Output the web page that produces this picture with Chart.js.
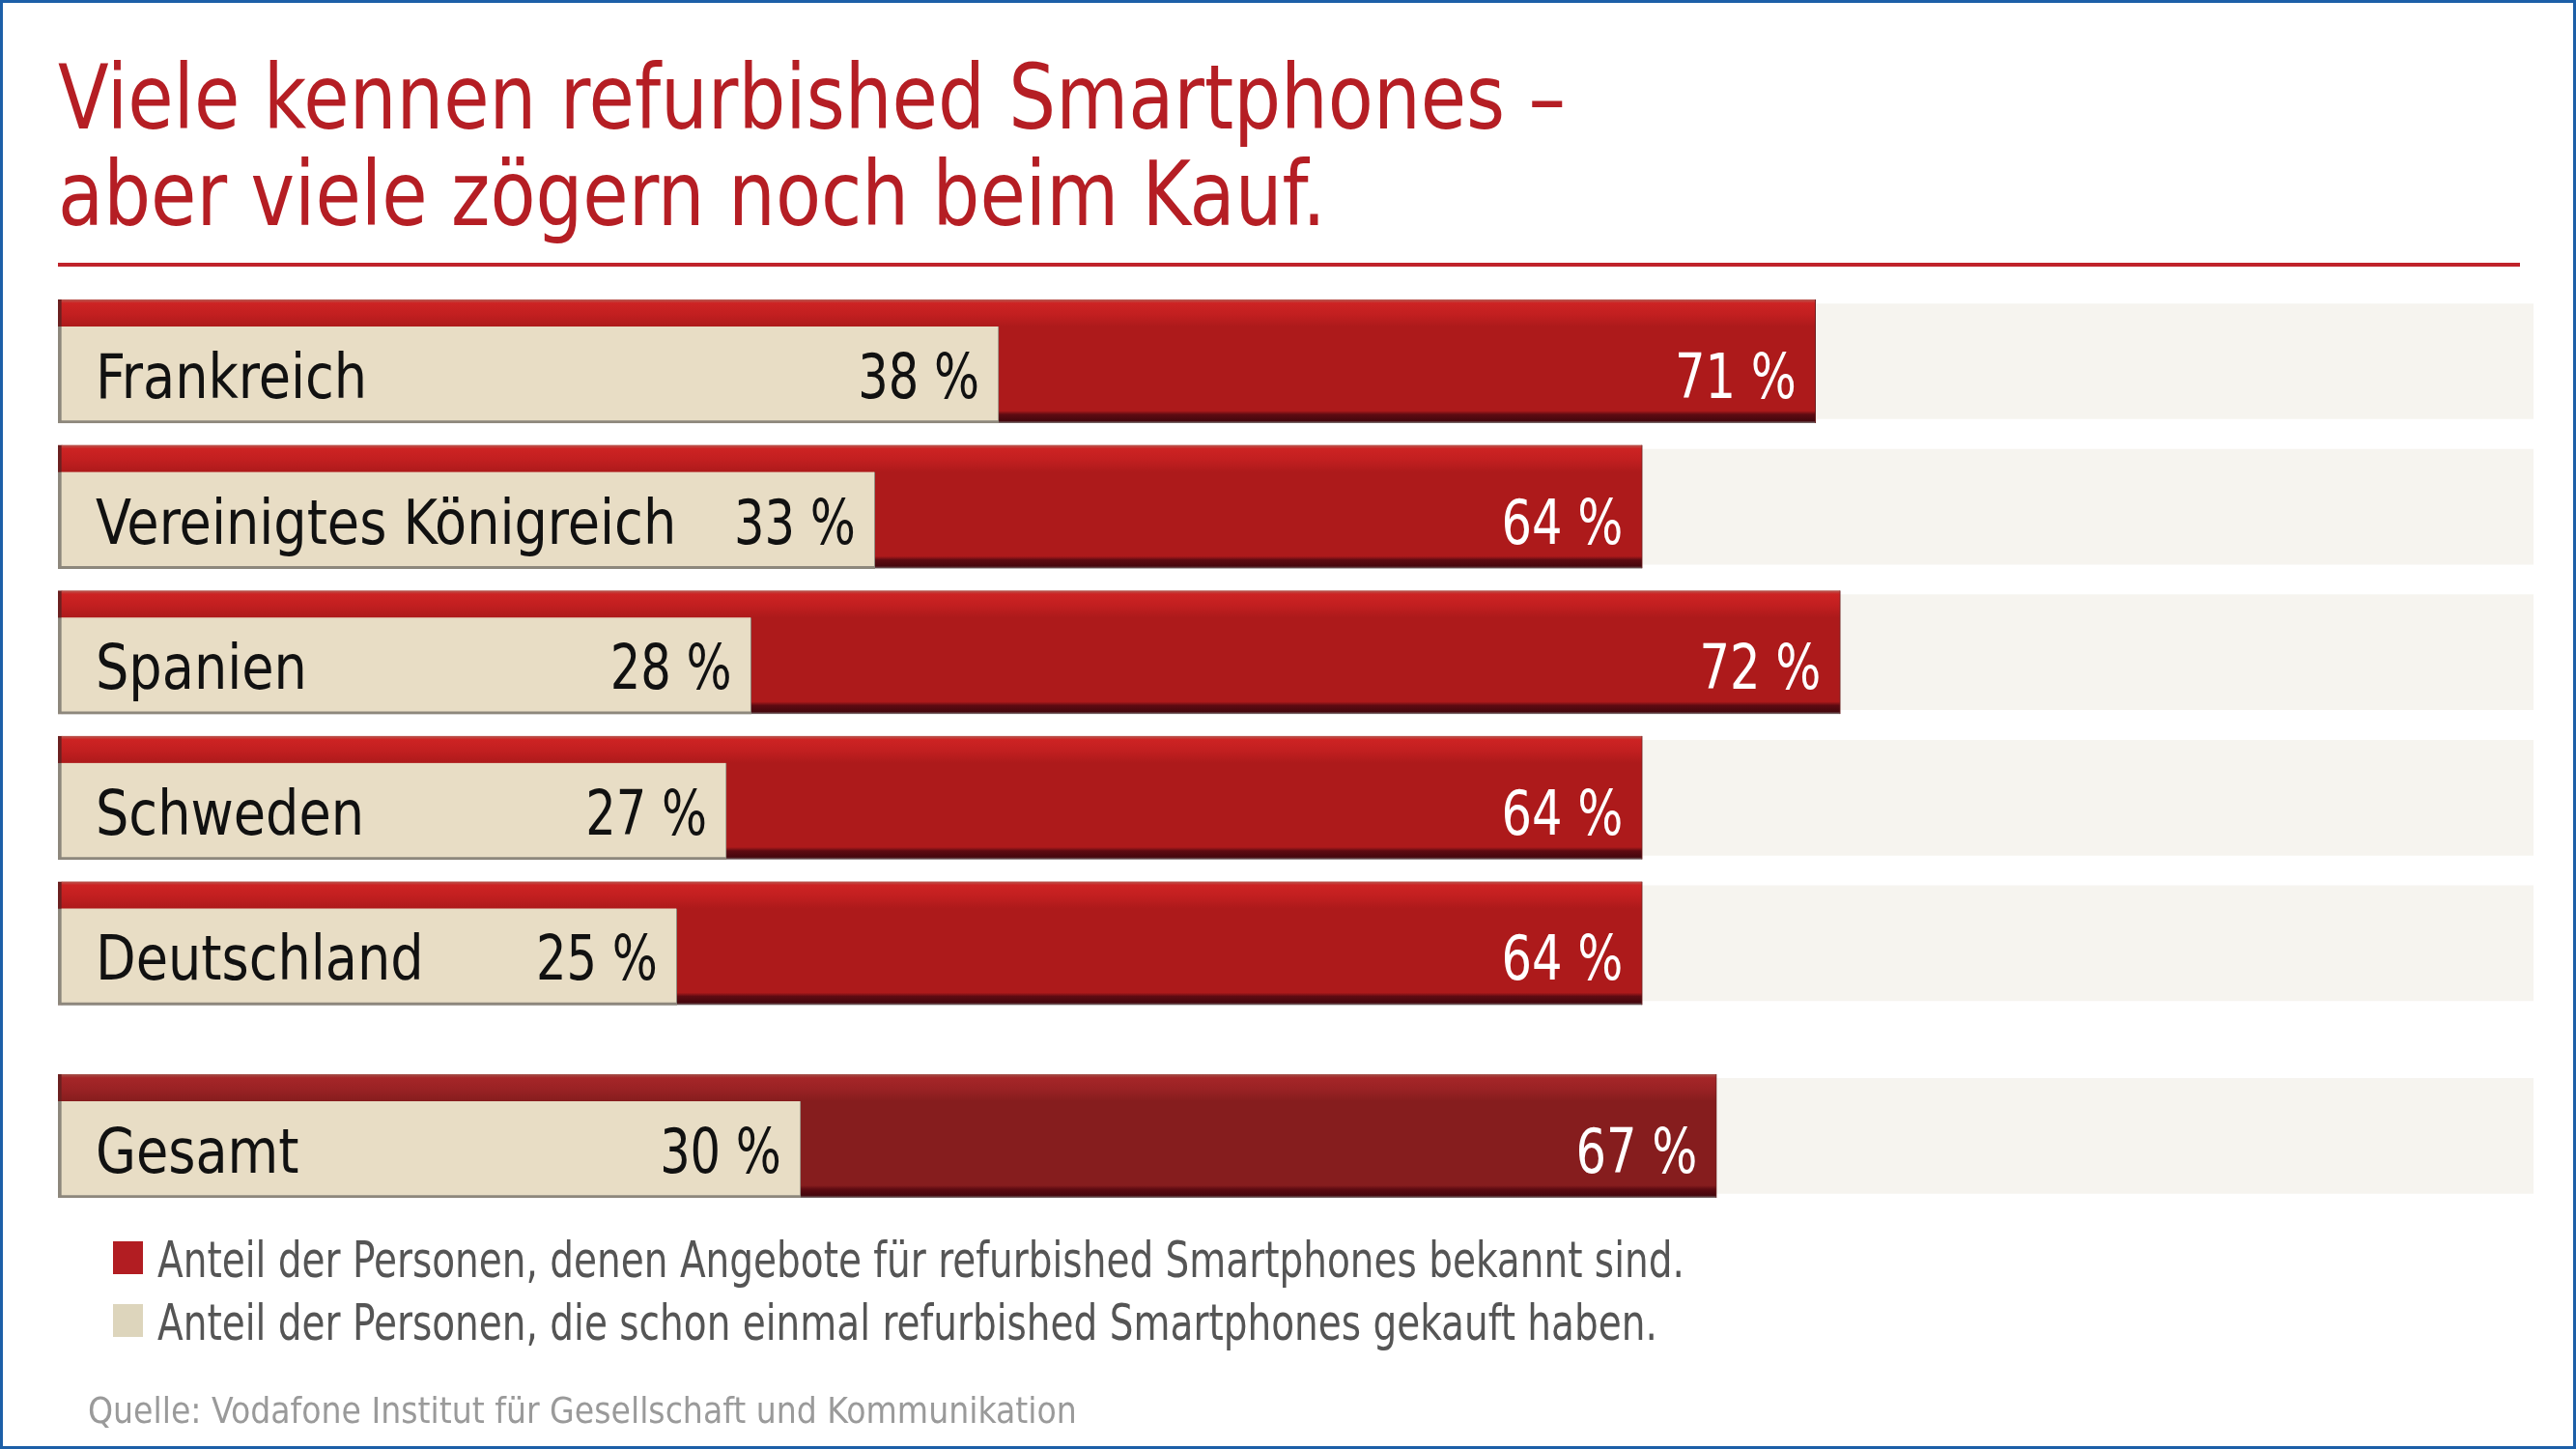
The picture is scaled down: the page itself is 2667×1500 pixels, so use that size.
<!DOCTYPE html>
<html lang="de">
<head>
<meta charset="UTF-8">
<title>Refurbished Smartphones</title>
<script src="https://cdn.jsdelivr.net/npm/chart.js@4.4.1/dist/chart.umd.min.js"></script>
<style>
  html, body { margin: 0; padding: 0; background: #fff; }
  #page { position: relative; width: 2667px; height: 1500px; box-sizing: border-box;
          border: 3px solid #1c5fa8; overflow: hidden;
          font-family: "DejaVu Sans Condensed", "Liberation Sans Narrow", sans-serif; }
  #chart { position: absolute; left: -3px; top: -3px; }
  .title { position: absolute; left: 57px; top: 48px; font-size: 93px; line-height: 100px; color: #b51e24;
           white-space: nowrap; transform: scaleX(0.92); transform-origin: 0 0; }
  .rule { position: absolute; left: 57px; top: 269px; width: 2549px; height: 4px; background: #c0232a; }
  .legend { position: absolute; left: 160px; font-size: 51px; line-height: 51px; color: #555; white-space: nowrap; }
  .legend span { display: inline-block; transform: scaleX(0.85); transform-origin: 0 0; }
  .legend i { position: absolute; left: -46px; top: 6px; width: 31px; height: 34px; }
  .source { position: absolute; left: 88px; top: 1438px; font-size: 38px; line-height: 38px; color: #9a9a9a;
            white-space: nowrap; transform: scaleX(0.97); transform-origin: 0 0; }
</style>
</head>
<body>
<div id="page">
  <canvas id="chart" width="2667" height="1500"></canvas>
  <div class="title">Viele kennen refurbished Smartphones –<br>aber viele zögern noch beim Kauf.</div>
  <div class="rule"></div>
  <div class="legend" style="top:1276px"><i style="background:#b21d22"></i><span>Anteil der Personen, denen Angebote für refurbished Smartphones bekannt sind.</span></div>
  <div class="legend" style="top:1341px"><i style="background:#ddd5bc"></i><span>Anteil der Personen, die schon einmal refurbished Smartphones gekauft haben.</span></div>
  <div class="source">Quelle: Vodafone Institut für Gesellschaft und Kommunikation</div>
</div>

<script>
// Daten
var laender = ['Frankreich', 'Vereinigtes Königreich', 'Spanien', 'Schweden', 'Deutschland', 'Gesamt'];
var bekannt = [71, 64, 72, 64, 64, 67];   // Angebote bekannt
var gekauft = [38, 33, 28, 27, 25, 30];   // schon gekauft
var skalaMax = 100;

// Zeilenpositionen: "Gesamt" etwas abgesetzt
var rowPos = laender.map(function (l, i) { return i + (l === 'Gesamt' ? 0.325 : 0); });
var rowSpacing = 150.6, firstCenter = 374;
var nameScale = 0.94, numScale = 0.86;

function redFill(context) {
  var chart = context.chart;
  var i = context.dataIndex;
  var dark = laender[i] === 'Gesamt';
  var base = dark ? '#861d1e' : '#ad1a1b';
  if (!chart.chartArea || !chart.scales.y || i === undefined) return base;
  var c = chart.scales.y.getPixelForValue(rowPos[i]);
  if (!isFinite(c)) return base;
  var g = chart.ctx.createLinearGradient(0, c - 64, 0, c + 64);
  g.addColorStop(0, dark ? '#a3514b' : '#b75a52');
  g.addColorStop(0.03, dark ? '#a52628' : '#cd2323');
  g.addColorStop(0.12, dark ? '#9a2224' : '#c21f20');
  g.addColorStop(0.22, base);
  g.addColorStop(0.9, base);
  g.addColorStop(0.93, '#5e0b12');
  g.addColorStop(0.98, '#45070d');
  g.addColorStop(1, '#7d7474');
  return g;
}

function squeezedText(ctx, text, x, y, sx) {
  ctx.save();
  ctx.scale(sx, 1);
  ctx.fillText(text, x / sx, y);
  ctx.restore();
}

var labelPlugin = {
  id: 'barLabels',
  afterDatasetsDraw: function (chart) {
    var ctx = chart.ctx;
    var beige = chart.getDatasetMeta(0).data;
    var red = chart.getDatasetMeta(1).data;
    ctx.save();
    ctx.font = '64px "DejaVu Sans Condensed", "Liberation Sans Narrow", sans-serif';
    ctx.textBaseline = 'alphabetic';
    for (var i = 0; i < laender.length; i++) {
      var b = beige[i], r = red[i];
      var y = b.y + 24;
      ctx.fillStyle = '#111';
      ctx.textAlign = 'left';
      squeezedText(ctx, laender[i], b.base + 39, y, nameScale);
      ctx.textAlign = 'right';
      squeezedText(ctx, gekauft[i] + ' %', b.x - 20, y, numScale);
      ctx.fillStyle = '#fff';
      squeezedText(ctx, bekannt[i] + ' %', r.x - 20, y, numScale);
    }
    ctx.restore();
  }
};

var ctx = document.getElementById('chart').getContext('2d');
new Chart(ctx, {
  type: 'bar',
  data: {
    datasets: [
      {
        label: 'gekauft',
        data: gekauft.map(function (v, i) { return { x: v, y: rowPos[i] + 0.093 }; }),
        backgroundColor: '#e8ddc5',
        borderColor: '#8d877c',
        borderWidth: { left: 4, bottom: 3, top: 0, right: 1 },
        borderSkipped: false,
        barThickness: 100,
        grouped: false,
        order: 1
      },
      {
        label: 'bekannt',
        data: bekannt.map(function (v, i) { return { x: v, y: rowPos[i] }; }),
        backgroundColor: redFill,
        borderColor: '#6b2020',
        borderWidth: { left: 4, right: 1, top: 0, bottom: 0 },
        borderSkipped: false,
        barThickness: 128,
        grouped: false,
        order: 2
      },
      {
        label: 'track',
        data: laender.map(function (l, i) { return { x: skalaMax, y: rowPos[i] }; }),
        backgroundColor: '#f6f4ef',
        barThickness: 119,
        grouped: false,
        order: 3
      }
    ]
  },
  options: {
    indexAxis: 'y',
    responsive: false,
    animation: false,
    devicePixelRatio: 1,
    layout: {
      padding: {
        left: 60,
        right: 44,
        top: firstCenter - 0.5 * rowSpacing,
        bottom: 1500 - (firstCenter + (rowPos[rowPos.length - 1] + 0.5) * rowSpacing)
      }
    },
    scales: {
      x: { type: 'linear', min: 0, max: skalaMax, display: false, offset: false },
      y: { type: 'linear', min: -0.5, max: rowPos[rowPos.length - 1] + 0.5, reverse: true, display: false, offset: false }
    },
    plugins: {
      legend: { display: false },
      tooltip: { enabled: false }
    }
  },
  plugins: [labelPlugin]
});
</script>
</body>
</html>
